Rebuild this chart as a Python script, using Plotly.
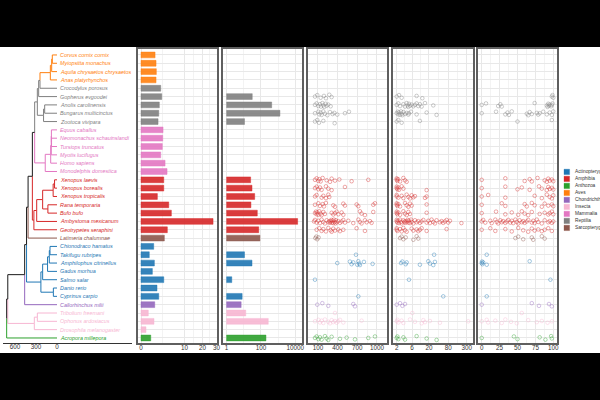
import math
import plotly.graph_objects as go

# ---------------- data ----------------
species = [
    "Corvus cornix cornix", "Myiopsitta monachus", "Aquila chrysaetos chrysaetos", "Anas platyrhynchos",
    "Crocodylus porosus", "Gopherus evgoodei", "Anolis carolinensis", "Bungarus multicinctus", "Zootoca vivipara",
    "Equus caballus", "Neomonachus schauinslandi", "Tursiops truncatus", "Myotis lucifugus", "Homo sapiens",
    "Monodelphis domestica",
    "Xenopus laevis", "Xenopus borealis", "Xenopus tropicalis", "Rana temporaria", "Bufo bufo",
    "Ambystoma mexicanum", "Geotrypetes seraphini",
    "Latimeria chalumnae",
    "Chionodraco hamatus", "Takifugu rubripes", "Amphilophus citrinellus", "Gadus morhua", "Salmo salar",
    "Danio rerio", "Cyprinus carpio",
    "Callorhinchus milii",
    "Tribolium freemani", "Ophonus ardosiacus", "Drosophila melanogaster",
    "Acropora millepora",
]
classes = (["Aves"] * 4 + ["Reptilia"] * 5 + ["Mammalia"] * 6 + ["Amphibia"] * 7 + ["Sarcopterygii"]
           + ["Actinopterygii"] * 7 + ["Chondrichthyes"] + ["Insecta"] * 3 + ["Anthozoa"])

genome_gb = [1.04, 1.19, 1.24, 1.19, 2.05, 2.27, 1.77, 1.66, 1.53,
             2.56, 2.49, 2.40, 2.05, 3.05, 3.58,
             2.73, 2.73, 1.41, 4.06, 4.86, 27.4, 3.66,
             2.87,
             0.85, 0.36, 0.94, 0.68, 2.73, 1.35, 1.66,
             0.99, 0.28, 0.89, 0.13, 0.50]

element_count = [None, None, None, None, None, 31, 420, 1270, 11,
                 None, None, None, None, None, None,
                 25, 30, 43, 26, 61, 13600, 74,
                 87,
                 None, 11, 30, None, 2, None, 8,
                 7, 13, 265, None, 195]

class_names = ["Actinopterygii", "Amphibia", "Anthozoa", "Aves", "Chondrichthyes",
               "Insecta", "Mammalia", "Reptilia", "Sarcopterygii"]
class_colors = ["#1f77b4", "#d62728", "#2ca02c", "#ff7f0e", "#9467bd",
                "#f7b6d2", "#e377c2", "#7f7f7f", "#8c564b"]

# internal nodes: name -> (age in Myr, children)
tree_nodes = {
    "root": (719, ["bilateria", "Acropora millepora"]),
    "bilateria": (703, ["gnathostomata", "insecta"]),
    "insecta": (324, ["beetles", "Drosophila melanogaster"]),
    "beetles": (281, ["Tribolium freemani", "Ophonus ardosiacus"]),
    "gnathostomata": (462, ["osteichthyes", "Callorhinchus milii"]),
    "osteichthyes": (435, ["sarcopterygii", "teleostei"]),
    "teleostei": (230, ["euteleostei", "cyprinidae"]),
    "cyprinidae": (52, ["Danio rerio", "Cyprinus carpio"]),
    "euteleostei": (205, ["neoteleostei", "Salmo salar"]),
    "neoteleostei": (135, ["percomorpha", "Gadus morhua"]),
    "percomorpha": (110, ["eupercaria", "Amphilophus citrinellus"]),
    "eupercaria": (100, ["Chionodraco hamatus", "Takifugu rubripes"]),
    "sarcopterygii": (413, ["tetrapoda", "Latimeria chalumnae"]),
    "tetrapoda": (352, ["amniota", "amphibia"]),
    "amniota": (319, ["sauropsida", "mammalia"]),
    "sauropsida": (281, ["archelosauria", "squamata"]),
    "archelosauria": (262, ["archosauria", "Gopherus evgoodei"]),
    "archosauria": (243, ["aves", "Crocodylus porosus"]),
    "aves": (95, ["neoaves", "Anas platyrhynchos"]),
    "neoaves": (76, ["passeri", "Aquila chrysaetos chrysaetos"]),
    "passeri": (67, ["Corvus cornix cornix", "Myiopsitta monachus"]),
    "squamata": (192, ["toxicofera", "Zootoca vivipara"]),
    "toxicofera": (176, ["Anolis carolinensis", "Bungarus multicinctus"]),
    "mammalia": (168, ["eutheria", "Monodelphis domestica"]),
    "eutheria": (90, ["laurasiatheria", "Homo sapiens"]),
    "laurasiatheria": (82, ["scrotifera", "Myotis lucifugus"]),
    "scrotifera": (80, ["Equus caballus", "caniformia_cet"]),
    "caniformia_cet": (78, ["Neomonachus schauinslandi", "Tursiops truncatus"]),
    "amphibia": (330, ["batrachia", "Geotrypetes seraphini"]),
    "batrachia": (290, ["anura", "Ambystoma mexicanum"]),
    "anura": (205, ["pipidae", "neobatrachia"]),
    "pipidae": (55, ["xenopus", "Xenopus tropicalis"]),
    "xenopus": (35, ["Xenopus laevis", "Xenopus borealis"]),
    "neobatrachia": (130, ["Rana temporaria", "Bufo bufo"]),
}

# per-element values (panels 4-6)
element_length = {
    "Gopherus evgoodei": [55, 90, 141, 192, 222, 273, 309],
    "Anolis carolinensis": [55, 80, 106, 131, 146, 167, 182, 197, 217, 233, 258, 294],
    "Bungarus multicinctus": [55, 106, 121, 141, 156, 182, 207, 243, 284, 324, 350, 395, 512, 573],
    "Zootoca vivipara": [55, 90, 116, 182, 355],
    "Xenopus laevis": [55, 80, 106, 121, 141, 172, 233, 284, 309, 360, 426, 614, 868],
    "Xenopus borealis": [55, 80, 106, 131, 156, 222, 258, 309, 512],
    "Xenopus tropicalis": [55, 80, 156, 182, 222, 258, 273],
    "Rana temporaria": [55, 106, 131, 172, 192, 222, 334, 360, 487, 512, 690, 716, 944, 970],
    "Bufo bufo": [55, 70, 80, 90, 106, 121, 141, 156, 182, 207, 309, 334, 360, 385, 411, 461, 487, 741, 766, 817, 944],
    "Ambystoma mexicanum": [40, 55, 80, 106, 131, 156, 182, 207, 233, 258, 273, 284, 294, 304, 314, 324, 334, 344,
                            355, 365, 375, 385, 411, 436, 461, 487, 512, 563, 639, 716, 741, 766, 817, 843, 893, 919],
    "Geotrypetes seraphini": [80, 121, 156, 182, 222, 258, 294, 309, 334, 360, 411, 436, 487, 690, 817],
    "Latimeria chalumnae": [60, 75, 90, 110],
    "Takifugu rubripes": [680],
    "Amphilophus citrinellus": [395, 588, 614, 639, 700, 716, 731, 741, 802, 934],
    "Salmo salar": [55],
    "Cyprinus carpio": [716],
    "Callorhinchus milii": [90, 167, 258, 639, 665],
    "Tribolium freemani": [360],
    "Ophonus ardosiacus": [55, 106, 131, 156, 182, 207, 258, 284, 309, 334, 360, 385, 411, 436, 487, 766],
    "Acropora millepora": [55, 80, 106, 131, 156, 207, 233, 258, 309, 436, 538, 665, 868, 970],
}

element_copies = {
    "Gopherus evgoodei": [2, 2.36, 2.85, 8.3, 12.5],
    "Anolis carolinensis": [2, 2.25, 2.54, 3.22, 3.62, 4.08, 4.37, 4.6, 4.8, 5.18, 5.83, 6.57, 7.37, 8.3, 9.35, 10.5,
                            11.9, 15.1, 27.3],
    "Bungarus multicinctus": [2, 2.15, 2.25, 2.36, 2.54, 2.72, 2.85, 3.0, 3.22, 3.62, 4.08, 4.6, 4.8, 5.56, 8.3, 17.0,
                              34.6],
    "Zootoca vivipara": [2, 2.25, 2.85, 10.5],
    "Xenopus laevis": [2, 2, 2.1, 2.2, 2.54, 3.22, 3.62, 4.08],
    "Xenopus borealis": [2, 2, 2.1, 2.25, 2.36, 2.85, 3.22, 17],
    "Xenopus tropicalis": [2, 2, 2.25, 2.85, 3.22, 4.08, 4.6, 5.18, 5.83, 6.57, 7.37, 15.1, 17],
    "Rana temporaria": [2, 2, 2.1, 2.25, 2.54, 3.62, 4.08, 4.6, 5.18, 5.83, 17],
    "Bufo bufo": [2, 2, 2.1, 2.25, 2.54, 3.22, 3.62, 4.08, 4.6, 5.18, 17],
    "Ambystoma mexicanum": [2, 2, 2.1, 2.25, 2.36, 2.54, 2.72, 2.85, 3.22, 3.45, 3.62, 3.8, 4.08, 4.37, 4.6, 4.8, 5.18,
                            5.56, 5.83, 6.57, 7.37, 8.3, 9.35, 10.5, 11.9, 13.4, 17, 19.1, 21.5, 24.2, 27.3, 30.7,
                            34.6, 43.8, 49.5, 55.7, 62.7, 70.7, 79.7, 89.8, 204],
    "Geotrypetes seraphini": [2, 2, 2.1, 2.54, 2.85, 3.22, 3.62, 4.08, 5.83, 6.57, 8.3, 9.35, 10.5, 11.9, 17, 70.7],
    "Latimeria chalumnae": [2.54, 2.85, 3.22, 3.8, 6.57, 8.3, 9.35],
    "Takifugu rubripes": [29],
    "Amphilophus citrinellus": [2.72, 3.0, 3.8, 4.08, 10.5, 19.1, 21.5, 27.3, 30.7],
    "Salmo salar": [4.8],
    "Cyprinus carpio": [55.7],
    "Callorhinchus milii": [2, 2.54, 3.0, 3.62],
    "Tribolium freemani": [6.1],
    "Ophonus ardosiacus": [2, 2.1, 2.25, 2.85, 3.22, 5.18, 7.37, 11.9, 13.4, 15.1, 21.5, 43.8, 332],
    "Acropora millepora": [2, 2.1, 2.25, 3.22, 3.62, 8.3, 17, 34.6],
}

element_identity = {
    "Gopherus evgoodei": [98, 99, 100],
    "Anolis carolinensis": [0, 6, 23, 26, 28, 74, 91, 92, 93, 94, 95, 97, 98, 99],
    "Bungarus multicinctus": [0, 20, 33, 36, 38, 42, 63, 65, 67, 70, 77, 79, 81, 86, 91, 95, 98, 100],
    "Zootoca vivipara": [50, 98],
    "Xenopus laevis": [0, 33, 60, 67, 70, 78, 88, 91, 93, 95, 98, 100],
    "Xenopus borealis": [0, 33, 50, 56, 67, 80, 84, 91, 93, 95, 98, 100],
    "Xenopus tropicalis": [0, 9, 33, 74, 84, 91, 95, 98, 100],
    "Rana temporaria": [0, 28, 33, 60, 63, 70, 74, 84, 88, 93, 98, 100],
    "Bufo bufo": [0, 20, 33, 42, 51, 56, 60, 65, 70, 81, 88, 93, 95, 98, 100],
    "Ambystoma mexicanum": [0, 2, 5, 12, 14, 19, 21, 23, 26, 28, 30, 33, 35, 37, 40, 42, 44, 47, 49, 51, 53, 56, 58,
                            60, 63, 65, 70, 72, 74, 77, 79, 84, 88, 93, 95, 98, 100],
    "Geotrypetes seraphini": [0, 12, 19, 33, 42, 51, 58, 65, 70, 74, 79, 84, 88, 93, 98],
    "Latimeria chalumnae": [47, 51, 58, 70, 72, 84, 88],
    "Takifugu rubripes": [7],
    "Amphilophus citrinellus": [0, 0.5, 1, 2, 7, 67],
    "Salmo salar": [96],
    "Cyprinus carpio": [7],
    "Callorhinchus milii": [0, 70, 80, 94, 98],
    "Tribolium freemani": [56],
    "Ophonus ardosiacus": [0, 7, 9, 19, 28, 33, 41, 49, 65, 77, 84, 92, 98],
    "Acropora millepora": [0, 45, 50, 81, 89, 97, 98],
}

tree_ticks = [600, 300, 0]
genome_ticks = [0, 10, 20, 30]
count_ticks = [1, 100, 10000]
length_ticks = [100, 400, 700, 1000]
copies_ticks = [2, 6, 20, 80, 300]
identity_ticks = [0, 25, 50, 75, 100]

# ---------------- helpers ----------------
W, H = 600, 400
color_of = dict(zip(class_names, class_colors))
sp_class = dict(zip(species, classes))
FONT = "Liberation Sans, Arial, sans-serif"
TICK_COLOR = "#333333"
TICK_FONT = dict(family=FONT, size=6.3, color=TICK_COLOR)


def rgba(hex_color, a):
    h = hex_color.lstrip("#")
    return "rgba(%d,%d,%d,%.3f)" % (int(h[0:2], 16), int(h[2:4], 16), int(h[4:6], 16), a)


def px_dom(a, b):
    return [a / W, b / W]


Y_DOMAIN = [1 - 343.3 / H, 1 - 49.3 / H]
Y_RANGE = [35.64, 0.32]

# ---------------- tree layout ----------------
ypos = {sp: i + 1 for i, sp in enumerate(species)}
age = {sp: 0.0 for sp in species}
parent = {}
for n, (a, ch) in tree_nodes.items():
    for c in ch:
        parent[c] = n


def place(n):
    if n in ypos:
        return ypos[n]
    a, ch = tree_nodes[n]
    ys = [place(c) for c in ch]
    ypos[n] = sum(ys) / len(ys)
    age[n] = a
    return ypos[n]


place("root")


def tips_under(n):
    if n not in tree_nodes:
        return {n}
    s = set()
    for c in tree_nodes[n][1]:
        s |= tips_under(c)
    return s


all_nodes = list(species) + list(tree_nodes.keys())
tips_of = {n: tips_under(n) for n in all_nodes}
group = {n: None for n in all_nodes}
for cls in class_names:
    members = {sp for sp in species if sp_class[sp] == cls}
    cands = [n for n in all_nodes if members <= tips_of[n]]
    mrca = min(cands, key=lambda n: len(tips_of[n]))
    for n in all_nodes:
        if tips_of[n] <= tips_of[mrca] and tips_of[n] & members:
            group[n] = cls

fig = go.Figure()

seg = {}
for n in all_nodes:
    if n == "root":
        continue
    p = parent[n]
    key = group[n]
    xs, ys = seg.setdefault(key, ([], []))
    xs += [age[p], age[p], age[n], None]
    ys += [ypos[p], ypos[n], ypos[n], None]
for key, (xs, ys) in seg.items():
    col = color_of[key] if key else "#1a1a1a"
    fig.add_trace(go.Scatter(x=xs, y=ys, mode="lines", line=dict(color=col, width=1),
                             xaxis="x", yaxis="y", hoverinfo="skip", showlegend=False))

annotations = []
for sp in species:
    annotations.append(dict(x=-8, y=ypos[sp], xref="x", yref="y", text="<i>%s</i>" % sp,
                            showarrow=False, xanchor="left", yanchor="middle",
                            font=dict(family=FONT, size=5.4, color=color_of[sp_class[sp]])))

# ---------------- bar panels ----------------
rows = [ypos[sp] for sp in species]
fills = [rgba(color_of[c], 0.9) for c in classes]
edges = [rgba(color_of[c], 0.45) for c in classes]

fig.add_trace(go.Bar(x=[math.sqrt(v) for v in genome_gb], y=rows, orientation="h", width=0.7,
                     marker=dict(color=fills, line=dict(color=edges, width=1)),
                     xaxis="x2", yaxis="y2", showlegend=False, hoverinfo="skip"))

cx, cy, cf, ce = [], [], [], []
for sp, v, c in zip(species, element_count, classes):
    if v is None:
        continue
    cx.append(math.log10(v))
    cy.append(ypos[sp])
    cf.append(rgba(color_of[c], 0.9))
    ce.append(rgba(color_of[c], 0.45))
fig.add_trace(go.Bar(x=cx, y=cy, orientation="h", width=0.7, base=0,
                     marker=dict(color=cf, line=dict(color=ce, width=1)),
                     xaxis="x3", yaxis="y3", showlegend=False, hoverinfo="skip"))

# ---------------- point panels ----------------
JITTER = [0.0, -0.18, 0.14, -0.08, 0.2, -0.22, 0.06, 0.24, -0.14, 0.1, -0.04, 0.17]

for data, ax in [(element_length, "4"), (element_copies, "5"), (element_identity, "6")]:
    px_, py_, pc_ = [], [], []
    for sp, vals in data.items():
        for k, v in enumerate(vals):
            px_.append(v)
            py_.append(ypos[sp] + JITTER[k % len(JITTER)])
            pc_.append(color_of[sp_class[sp]])
    fig.add_trace(go.Scatter(x=px_, y=py_, mode="markers",
                             marker=dict(symbol="circle-open", size=3.6, color=pc_, opacity=0.5,
                                         line=dict(width=0.8)),
                             xaxis="x" + ax, yaxis="y" + ax, showlegend=False, hoverinfo="skip"))

# ---------------- axes ----------------
BORDER = "#5f5f5f"
GRID = "#e8e8e8"
MINOR = "#f3f3f3"


def panel_x(domain, rng, tickvals, ticktext, minor_vals, anchor, typ="linear"):
    return dict(domain=domain, range=rng, type=typ, anchor=anchor, tickmode="array",
                tickvals=tickvals, ticktext=ticktext, tickfont=TICK_FONT, color=TICK_COLOR,
                ticks="", ticklabelstandoff=-3, showgrid=True, gridcolor=GRID, gridwidth=0.7,
                zeroline=False,
                minor=dict(tickvals=minor_vals, showgrid=True, gridcolor=MINOR, gridwidth=0.5, ticks=""),
                showline=True, mirror=True, linecolor=BORDER, linewidth=1.5, automargin=False,
                fixedrange=True)


def panel_y(anchor):
    return dict(domain=Y_DOMAIN, range=Y_RANGE, anchor=anchor, tickmode="array",
                tickvals=list(range(1, len(species) + 1)), showticklabels=False, ticks="",
                showgrid=True, gridcolor=GRID, gridwidth=0.7, zeroline=False,
                showline=True, mirror=True, linecolor=BORDER, linewidth=1.5, automargin=False)


layout = dict(
    width=W, height=H, margin=dict(l=0, r=0, t=0, b=0),
    paper_bgcolor="white", plot_bgcolor="white", template="none", showlegend=False,
    xaxis=dict(domain=px_dom(3, 132), range=[771.4, -1071.4], anchor="y", tickmode="array",
               tickvals=tree_ticks, ticktext=[str(t) for t in tree_ticks], tickfont=TICK_FONT,
               color=TICK_COLOR, ticks="", ticklabelstandoff=-3, showgrid=False, zeroline=False,
               showline=True, linecolor="#333333", linewidth=0.9, automargin=False),
    yaxis=dict(domain=Y_DOMAIN, range=Y_RANGE, visible=False, showgrid=False, zeroline=False),
    xaxis2=panel_x(px_dom(138, 216.7), [-0.22, 5.50], [math.sqrt(t) for t in genome_ticks],
                   [str(t) for t in genome_ticks], [1.581, 3.817, 4.975], "y2"),
    yaxis2=panel_y("x2"),
    xaxis3=panel_x(px_dom(223, 301.7), [-0.21, 4.37], [math.log10(t) for t in count_ticks],
                   [str(t) for t in count_ticks], [1, 3], "y3"),
    yaxis3=panel_y("x3"),
    xaxis4=panel_x(px_dom(308.3, 386.7), [-47, 1149], length_ticks,
                   [str(t) for t in length_ticks], [250, 550, 850], "y4"),
    yaxis4=panel_y("x4"),
    xaxis5=panel_x(px_dom(393, 472.7), [0.186, 2.66], copies_ticks,
                   [str(t) for t in copies_ticks], [3.46, 10.95, 40, 155], "y5", typ="log"),
    yaxis5=panel_y("x5"),
    xaxis6=panel_x(px_dom(478, 556.7), [-5.2, 104.8], identity_ticks,
                   [str(t) for t in identity_ticks], [12.5, 37.5, 62.5, 87.5], "y6"),
    yaxis6=panel_y("x6"),
)

# legend (drawn manually; the reference crops its labels at the right edge)
shapes = []
for i, (name, col) in enumerate(zip(class_names, class_colors)):
    yc = 171.9 + 7.0 * i
    shapes.append(dict(type="rect", xref="paper", yref="paper",
                       x0=564 / W, x1=569.6 / W, y0=1 - (yc + 2.7) / H, y1=1 - (yc - 2.7) / H,
                       fillcolor=col, line=dict(color=rgba(col, 0.6), width=0.5), layer="above"))
    annotations.append(dict(x=572.5 / W, y=1 - yc / H, xref="paper", yref="paper", text=name,
                            showarrow=False, xanchor="left", yanchor="middle",
                            font=dict(family=FONT, size=4.8, color="#333333")))

# letterbox bands
shapes.append(dict(type="rect", xref="paper", yref="paper", x0=0, x1=1, y0=1 - 47 / H, y1=1,
                   fillcolor="black", line=dict(width=0), layer="above"))
shapes.append(dict(type="rect", xref="paper", yref="paper", x0=0, x1=1, y0=0, y1=1 - 353 / H,
                   fillcolor="black", line=dict(width=0), layer="above"))

layout["shapes"] = shapes
layout["annotations"] = annotations
fig.update_layout(**layout)

fig.write_html("out.html")
